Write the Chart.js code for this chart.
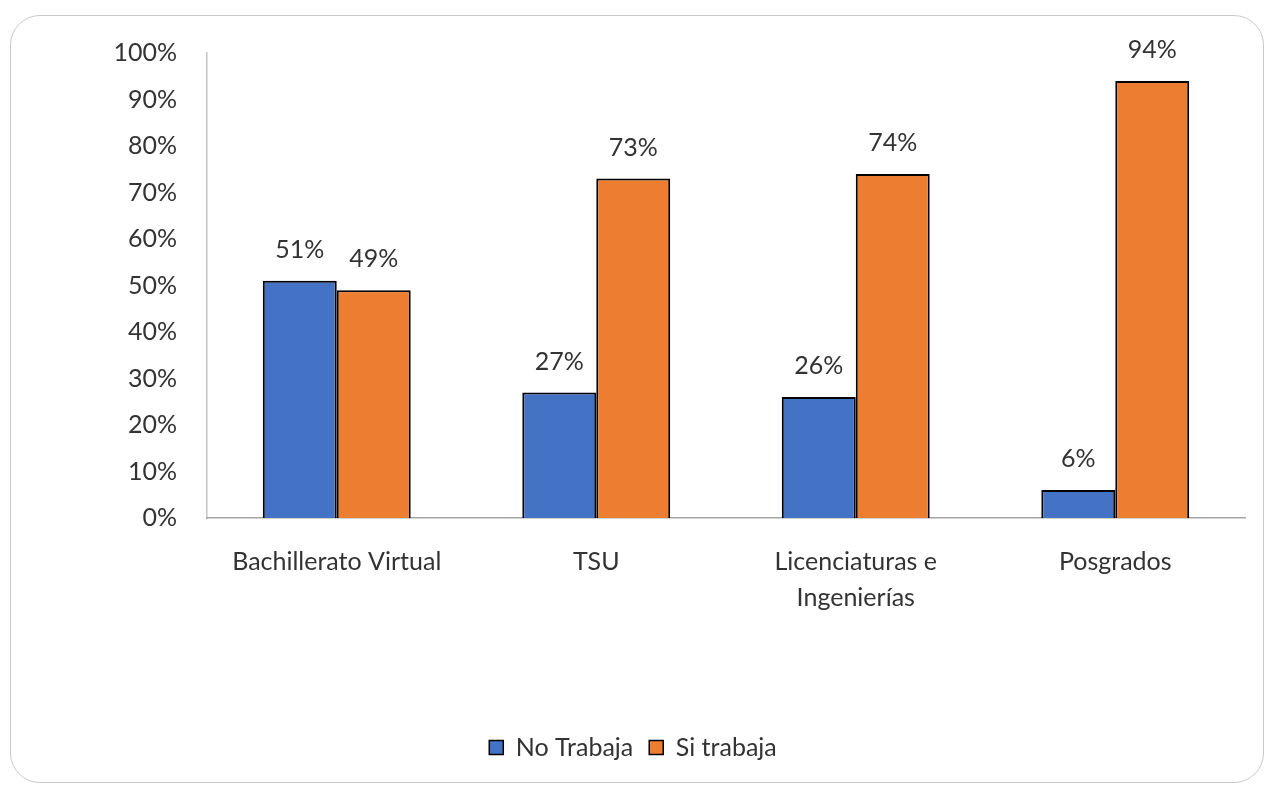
<!DOCTYPE html>
<html>
<head>
<meta charset="utf-8">
<script src="https://cdn.jsdelivr.net/npm/chart.js@4/dist/chart.umd.min.js"></script>
<style>
  body { margin: 0; background: #fff; }
  #frame {
    position: absolute; left: 10px; top: 15px;
    width: 1252px; height: 766px;
    border: 1.5px solid #c9c9c9; border-radius: 30px;
  }
  #chart { display: block; }
</style>
</head>
<body>
<div id="frame"><canvas id="chart" width="1252" height="766"></canvas></div>
<script>
const categories = ["Bachillerato Virtual", "TSU", ["Licenciaturas e", "Ingenierías"], "Posgrados"];
const seriesNames = ["No Trabaja", "Si trabaja"];
const noTrabaja = [51, 27, 26, 6];
const siTrabaja = [49, 73, 74, 94];
const yTicks = [0, 10, 20, 30, 40, 50, 60, 70, 80, 90, 100];

const textColor = '#333333';
const fontFamily = 'Lato, "Open Sans", sans-serif';
const fontSize = 25;

// draw the value labels above each bar
const valueLabels = {
  id: 'valueLabels',
  afterDatasetsDraw(chart) {
    const ctx = chart.ctx;
    ctx.save();
    ctx.fillStyle = textColor;
    ctx.font = fontSize + 'px ' + fontFamily;
    ctx.textAlign = 'center';
    ctx.textBaseline = 'middle';
    chart.data.datasets.forEach((ds, i) => {
      chart.getDatasetMeta(i).data.forEach((bar, j) => {
        ctx.fillText(ds.data[j] + '%', bar.x, bar.y - 31);
      });
    });
    ctx.restore();
  }
};

new Chart(document.getElementById('chart'), {
  type: 'bar',
  data: {
    labels: categories,
    datasets: [{
      label: seriesNames[0],
      data: noTrabaja,
      backgroundColor: '#4472C4',
      borderColor: '#000000',
      borderWidth: 2,
      categoryPercentage: 0.57,
      barPercentage: 1
    }, {
      label: seriesNames[1],
      data: siTrabaja,
      backgroundColor: '#ED7D31',
      borderColor: '#000000',
      borderWidth: 2,
      categoryPercentage: 0.57,
      barPercentage: 1
    }]
  },
  options: {
    responsive: false,
    animation: false,
    layout: { padding: { top: 37, left: 10, right: 18, bottom: 12 } },
    scales: {
      y: {
        min: 0,
        max: 100,
        afterBuildTicks(scale) { scale.ticks = yTicks.map(v => ({ value: v })); },
        afterFit(scale) { scale.width = 186; },
        // invisible tick marks give the gap between labels and axis
        grid: { display: false, drawTicks: true, tickLength: 25 },
        border: { display: true, color: '#c4c4c4', width: 1.5 },
        ticks: {
          padding: 5,
          color: textColor,
          font: { family: fontFamily, size: fontSize },
          callback: v => v + '%'
        }
      },
      x: {
        afterFit(scale) { scale.height = 201; },
        grid: { display: false, drawTicks: false },
        border: { display: true, color: '#a6a6a6', width: 1.5 },
        ticks: {
          padding: 26,
          color: textColor,
          font: { family: fontFamily, size: fontSize, lineHeight: 1.44 },
          maxRotation: 0
        }
      }
    },
    plugins: {
      legend: {
        position: 'bottom',
        labels: {
          color: textColor,
          font: { family: fontFamily, size: fontSize },
          boxWidth: 14,
          boxHeight: 14,
          padding: 16,
          generateLabels(chart) {
            return chart.data.datasets.map((ds, i) => ({
              text: ds.label,
              fillStyle: ds.backgroundColor,
              strokeStyle: '#000000',
              lineWidth: 1.5,
              fontColor: textColor,
              datasetIndex: i
            }));
          }
        }
      },
      tooltip: { enabled: false }
    }
  },
  plugins: [valueLabels]
});
</script>
</body>
</html>
